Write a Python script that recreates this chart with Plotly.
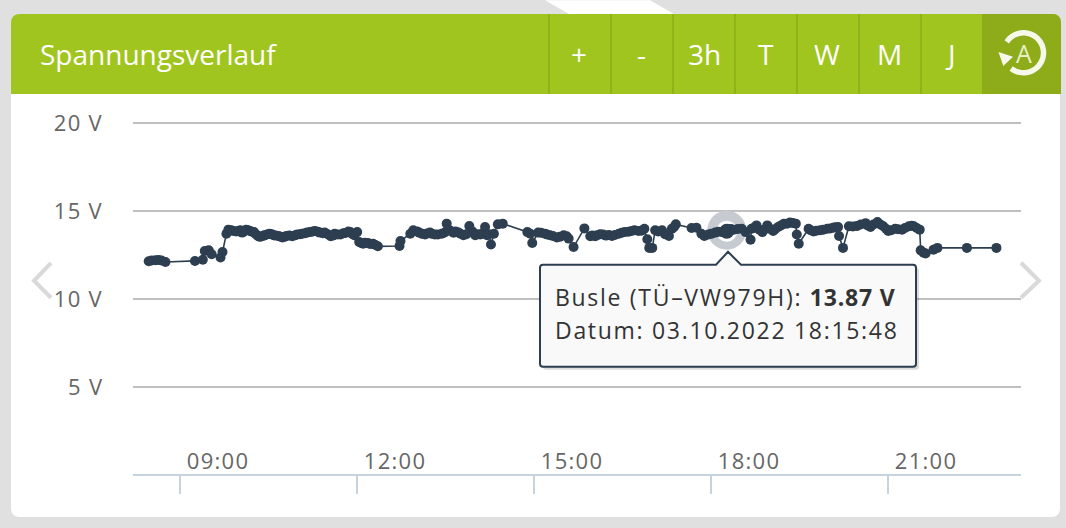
import math
import plotly.graph_objects as go

DAY = "2022-10-03 "
times = ["08:28","08:31","08:35","08:38","08:41","08:45","09:15","09:23","09:25","09:29","09:32","09:41","09:43","09:47","09:49","09:54","09:59","10:03","10:07","10:11","10:15","10:19","10:23","10:26","10:31","10:35","10:40","10:44","10:48","10:54","10:59","11:04","11:09","11:17","11:22","11:27","11:33","11:37","11:43","11:48","11:53","11:57","12:00","12:02","12:06","12:11","12:16","12:21","12:43","12:44","12:54","12:57","13:03","13:09",
"13:14","13:19","13:26","13:31","13:35","13:40","13:45","13:48","13:54","13:57","14:00","14:05","14:10","14:12","14:16","14:19","14:23","14:28","14:53","14:56","14:58","15:04","15:11","15:16","15:23","15:30","15:35","15:40","15:51","15:57","16:04","16:10","16:19","16:26","16:32","16:39","16:46","16:52","16:55","16:57","17:00","17:03","17:10","17:17","17:20","17:24","17:40","17:45","17:50","17:57","18:04","18:11","18:16",
"18:23","18:31","18:35","18:40","18:41","18:46","18:52","18:57","19:03","19:08","19:14","19:20","19:26","19:27","19:29","19:39","19:44","19:51","19:58","20:04","20:09","20:10","20:14","20:20","20:28","20:37","20:42","20:49","20:55","21:00","21:07","21:14","21:21","21:26","21:32","21:33","21:38","21:46","21:50","22:20","22:50"]
volts = [12.16,12.20,12.22,12.23,12.20,12.12,12.18,12.25,12.74,12.78,12.56,12.37,12.69,13.73,13.96,13.88,13.88,13.79,13.96,13.88,13.82,13.60,13.58,13.64,13.73,13.64,13.60,13.51,13.60,13.58,13.68,13.73,13.79,13.88,13.79,13.79,13.58,13.73,13.69,13.77,13.82,13.64,13.82,13.26,13.16,13.20,13.16,13.01,13.03,13.31,13.73,13.92,13.79,13.68,
13.79,13.68,13.73,14.30,13.88,13.86,13.73,13.64,14.16,13.86,13.64,13.68,14.11,13.64,13.11,13.73,14.26,14.30,13.82,13.73,13.20,13.79,13.73,13.64,13.51,13.64,13.45,12.97,14.03,13.58,13.64,13.68,13.60,13.73,13.82,13.88,13.88,14.01,13.41,12.92,12.92,13.92,13.92,13.60,14.01,14.26,14.05,14.07,13.73,13.68,13.79,13.82,13.87,
13.95,14.01,13.82,13.39,14.01,14.20,13.82,14.20,13.88,14.11,14.30,14.36,14.30,13.68,13.16,14.01,13.86,13.92,14.01,14.07,14.11,13.60,12.92,14.15,14.16,14.33,14.11,14.39,14.15,13.88,14.01,13.96,14.15,14.15,13.96,12.78,12.60,12.82,12.92,12.92,12.92]
extra_times = ["09:52","09:57","10:01","10:05","10:09","10:13","10:17","10:21","10:25","10:29","10:33","10:37","10:42","10:46","10:51","10:57","11:02","11:07","11:12","11:15","11:20","11:25","11:30","11:35","11:40","11:46","11:51","11:55",
"12:04","12:08","12:13","12:18","13:01","13:06","13:11","13:16","13:22","13:29","13:33","13:38","13:43","13:51","14:02","14:07","14:14",
"15:07","15:13","15:19","15:26","15:33","15:59","16:02","16:07","16:13","16:16","16:22","16:29","16:36","16:42","16:49","17:06","17:13","17:22","17:53","18:00","18:07","18:13","18:20","18:27","18:43","18:49","18:55","19:00","19:05","19:11","19:17","19:23",
"19:41","19:47","19:54","20:01","20:06","20:24","20:32","20:39","20:45","20:52","20:58","21:03","21:10","21:17","21:24","21:29","21:36"]
extra_volts = [13.92,13.85,13.92,13.85,13.93,13.84,13.70,13.55,13.62,13.70,13.70,13.62,13.56,13.55,13.62,13.64,13.70,13.76,13.82,13.86,13.84,13.76,13.70,13.62,13.68,13.75,13.85,13.72,
13.20,13.22,13.14,13.10,13.85,13.72,13.74,13.72,13.68,13.80,13.95,13.78,13.80,13.70,13.70,13.72,13.70,
13.78,13.68,13.60,13.55,13.58,13.62,13.58,13.70,13.62,13.66,13.65,13.78,13.84,13.92,13.90,13.85,13.70,14.10,13.60,13.72,13.84,13.80,14.00,14.00,14.05,13.95,14.00,14.00,13.98,14.20,14.30,14.34,
13.92,13.90,13.96,14.02,14.10,14.14,14.25,14.20,14.25,14.25,14.00,13.92,13.98,14.05,14.18,14.05,12.65]
hover_time = "18:15:48"
hover_volt = 13.87
x_ticks = ["09:00","12:00","15:00","18:00","21:00"]
y_ticks = [5,10,15,20]
y_labels = ["5 V","10 V","15 V","20 V"]
buttons = ["+","-","3h","T","W","M","J"]
title = "Spannungsverlauf"
tip_line1 = "Busle (TÜ–VW979H): <b>13.87 V</b>"
tip_line2 = "Datum: 03.10.2022 18:15:48"

W, H = 1066, 528
L, R, T, B = 133, 1021, 100, 475.5
PX_PER_V = 17.6
def px(x): return (x - L) / (R - L)
def py(y): return (B - y) / (B - T)
def P(x, y): return f"{px(x):.5f},{py(y):.5f}"
def path(cmds):
    out = []
    for c in cmds:
        if c[0] == "Z": out.append("Z")
        elif c[0] == "Q": out.append(f"Q{P(c[1],c[2])} {P(c[3],c[4])}")
        else: out.append(f"{c[0]}{P(c[1],c[2])}")
    return " ".join(out)
def shape(cmds, fill=None, line=None, lw=0, layer="below"):
    return dict(type="path", xref="paper", yref="paper", path=path(cmds), fillcolor=fill,
                line=dict(color=line or "rgba(0,0,0,0)", width=lw), layer=layer)
def rrect(x0,y0,x1,y1,rtl=0,rtr=0,rbr=0,rbl=0):
    return [("M",x0+rtl,y0),("L",x1-rtr,y0),("Q",x1,y0,x1,y0+rtr),("L",x1,y1-rbr),("Q",x1,y1,x1-rbr,y1),
            ("L",x0+rbl,y1),("Q",x0,y1,x0,y1-rbl),("L",x0,y0+rtl),("Q",x0,y0,x0+rtl,y0),("Z",)]

GREEN, DARK, SEP = "#a0c51e", "#8eab1a", "#8fb31a"
INK = "#2c3e50"
shapes = [
    shape([("M",545,0),("L",650,0),("L",674,14),("L",569,14),("Z",)], fill="#ffffff"),
    shape(rrect(11,94,1060,517.5,rbr=9,rbl=9), fill="#ffffff"),
    shape(rrect(11,14,1061,94,rtl=9,rtr=9), fill=GREEN),
    shape([("M",982,14),("L",1052,14),("Q",1061,14,1061,23),("L",1061,94),("L",982,94),("Z",)], fill=DARK),
]
for sx in [549,611,673,735,797,859,921]:
    shapes.append(shape([("M",sx,14),("L",sx,94)], line=SEP, lw=2))
for pts in ([(51,263),(34,281),(51,298)], [(1021,263),(1039,281),(1021,298)]):
    shapes.append(shape([("M",*pts[0]),("L",*pts[1]),("L",*pts[2])], line="#d9d9d9", lw=4, layer="above"))
# refresh icon
cx, cy, r = 1023.5, 52.7, 20
arc = []
for k in range(0, 61):
    a = math.radians(213 + 275 * k / 60)
    arc.append(("M" if k == 0 else "L", cx + r * math.cos(a), cy + r * math.sin(a)))
shapes.append(shape(arc, line="#f6f9ea", lw=5.5))
shapes.append(shape([("M",998.5,52),("L",1013,56.7),("L",1003.3,66),("Z",)], fill="#f6f9ea"))

def tip(dx=0, dy=0):
    x0,y0,x1,y1 = 540+dx,265+dy,916+dx,367+dy
    return [("M",x0+3,y0),("L",716+dx,y0),("L",728+dx,252+dy),("L",741+dx,y0),("L",x1-3,y0),("Q",x1,y0,x1,y0+3),
            ("L",x1,y1-3),("Q",x1,y1,x1-3,y1),("L",x0+3,y1),("Q",x0,y1,x0,y1-3),("L",x0,y0+3),("Q",x0,y0,x0+3,y0),("Z",)]
shapes.append(shape(tip(3,3), fill="rgba(0,0,0,0.14)", layer="above"))
shapes.append(shape(tip(), fill="#f9f9f9", line=INK, lw=2, layer="above"))

def note(text, x, y, size, color, anchor="center", family="Open Sans"):
    return dict(text=text, xref="paper", yref="paper", x=px(x), y=py(y), xanchor=anchor, yanchor="middle",
                showarrow=False, align={"center":"center","left":"left","right":"right"}[anchor],
                font=dict(family=family, size=size, color=color))
ann = [note(title, 38, 54, 28, "#ffffff", "left")]
for b, bx in zip(buttons, [579,641,704,766,827,889,950]):
    ann.append(note(b, bx, 54, 28, "#ffffff"))
ann.append(note("A", cx, cy, 25, "#e8f0c8"))
for t, lx in zip(x_ticks, [218,395,572,749,926]):
    ann.append(note(t, lx, 460, 22, "#666666"))
for t, v in zip(y_labels, y_ticks):
    ann.append(note(t, 106, B - v * PX_PER_V - 1, 22, "#666666", "right"))
ann.append(note(tip_line1, 553, 297, 23, "#333333", "left"))
ann.append(note(tip_line2, 553, 330, 23, "#333333", "left"))

pairs = sorted(zip(times + extra_times, volts + extra_volts))
x = [DAY + p[0] for p in pairs]
y = [p[1] for p in pairs]
fig = go.Figure()
fig.add_trace(go.Scatter(x=[DAY + hover_time], y=[hover_volt + 0.05], mode="markers", hoverinfo="skip",
                         marker=dict(size=39, color="#c6cbd1")))
fig.add_trace(go.Scatter(x=[DAY + hover_time], y=[hover_volt], mode="markers", hoverinfo="skip",
                         marker=dict(size=21, color="#ffffff")))
fig.add_trace(go.Scatter(x=x, y=y, mode="lines+markers", line=dict(color=INK, width=1.6),
                         marker=dict(size=10, color=INK)))
fig.add_trace(go.Scatter(x=[DAY + hover_time], y=[hover_volt], mode="markers", hoverinfo="skip",
                         marker=dict(size=15, color=INK)))
fig.update_layout(
    width=W, height=H, autosize=False, showlegend=False,
    margin=dict(l=L, r=W - R, t=T, b=H - B, pad=0),
    paper_bgcolor="#e0e0e0", plot_bgcolor="rgba(0,0,0,0)",
    shapes=shapes, annotations=ann,
    font=dict(family="Open Sans"),
    xaxis=dict(type="date", range=[DAY + "08:12", DAY + "23:15"], tickmode="array",
               tickvals=[DAY + t for t in x_ticks], showticklabels=False, ticks="outside", ticklen=18,
               tickwidth=2, tickcolor="#c6d2de", showline=False, showgrid=False, zeroline=False),
    yaxis=dict(range=[0, (B - T) / PX_PER_V], tickmode="array", tickvals=y_ticks, showticklabels=False, ticks="",
               showgrid=True, gridcolor="#c0c0c0", gridwidth=2, showline=False,
               zeroline=True, zerolinecolor="#c6d2de", zerolinewidth=2),
)
post = """
document.body.style.margin='0';
document.documentElement.style.overflow='hidden';
document.querySelectorAll('.annotation-text').forEach(function(el){
  var fs=parseFloat(el.style.fontSize);
  if(fs===22) el.style.letterSpacing='1.3px';
  if(fs===23) {
    el.style.letterSpacing='1.7px';
    el.querySelectorAll('tspan').forEach(function(t){
      if((t.style.fontWeight||'').indexOf('bold')>=0) t.style.letterSpacing='0.8px';
    });
  }
});
"""
fig.write_html("out.html", config=dict(displayModeBar=False), post_script=post)
